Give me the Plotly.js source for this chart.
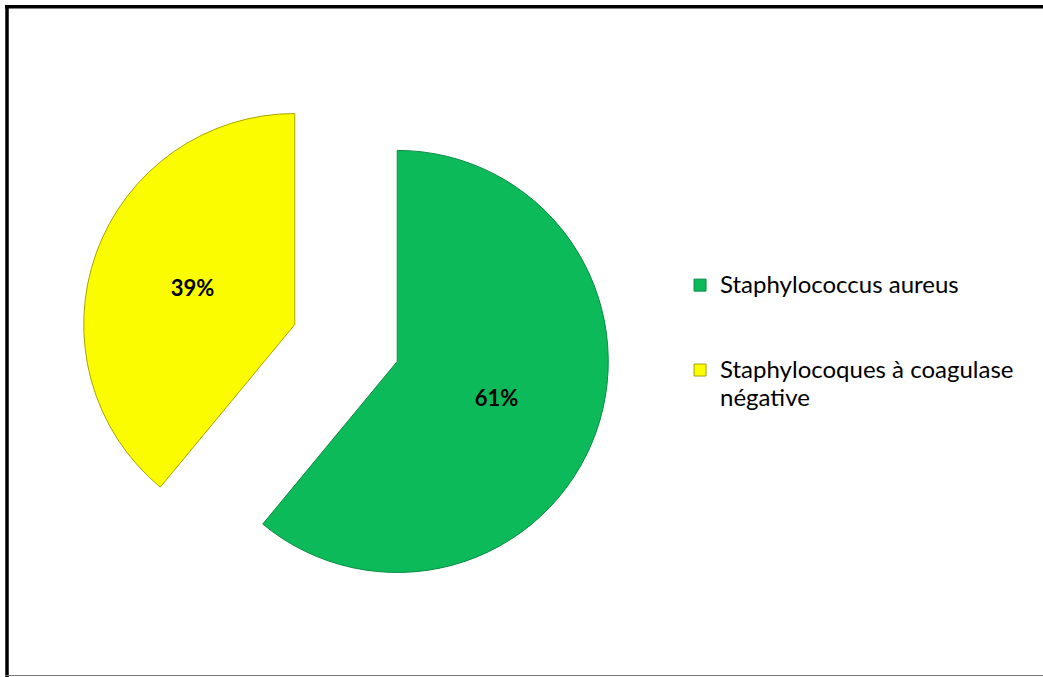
<!DOCTYPE html>
<html>
<head>
<meta charset="utf-8">
<script src="https://cdn.plot.ly/plotly-3.0.1.min.js"></script>
<style>
  html, body { margin: 0; padding: 0; background: #ffffff; }
  #chart { width: 1043px; height: 677px; }
</style>
</head>
<body>
<div id="chart"></div>
<script>
// Data
var categories = ["Staphylococcus aureus", "Staphylocoques à coagulase négative"];
var values = [61, 39];
var legendLines = [["Staphylococcus aureus", " ", " "], ["Staphylocoques à coagulase", "négative"]];
var sliceColors = ["#0dba5a", "#fcfc00"];
var edgeColors = ["#0a8b43", "#a6a600"];

var legendLabels = legendLines.map(function (lines) {
  return lines.map(function (l) { return '<span style="font-size:24px">' + l + '</span>'; }).join("<br>");
});

var trace = {
  type: "pie",
  values: values,
  labels: legendLabels,
  customdata: categories,
  sort: false,
  direction: "clockwise",
  rotation: 0,
  pull: [0.258, 0.258],
  marker: { colors: sliceColors, line: { color: edgeColors, width: 1 } },
  texttemplate: "<b>%{percent:.0%}</b>",
  textposition: "inside",
  insidetextorientation: "horizontal",
  textfont: { family: "Lato, 'Liberation Sans', sans-serif", size: 22, color: "#000000" },
  hovertemplate: "%{customdata}: %{percent}<extra></extra>",
  domain: { x: [0.0772, 0.5863], y: [0.1012, 0.8855] }
};

var layout = {
  width: 1043,
  height: 677,
  margin: { l: 0, r: 0, t: 0, b: 0 },
  paper_bgcolor: "#ffffff",
  showlegend: true,
  legend: {
    x: 0.652, xanchor: "left",
    y: 0.6086, yanchor: "top",
    font: { family: "Lato, 'Liberation Sans', sans-serif", size: 21, color: "#000000" },
    valign: "top",
    bgcolor: "rgba(0,0,0,0)"
  },
  font: { family: "Lato, 'Liberation Sans', sans-serif" },
  shapes: [
    { type: "line", xref: "paper", yref: "paper", x0: 0.0048, x1: 1.01, y0: 1 - 6.7/677, y1: 1 - 6.7/677, line: { color: "#000000", width: 3.5 } },
    { type: "line", xref: "paper", yref: "paper", x0: 7/1043, x1: 7/1043, y0: 1 - 5/677, y1: 0, line: { color: "#000000", width: 3.5 } },
    { type: "line", xref: "paper", yref: "paper", x0: 0.0048, x1: 1.01, y0: 1 - 675.5/677, y1: 1 - 675.5/677, line: { color: "#777777", width: 1 } }
  ]
};

Plotly.newPlot("chart", [trace], layout, { displayModeBar: false, staticPlot: true });
</script>
</body>
</html>
